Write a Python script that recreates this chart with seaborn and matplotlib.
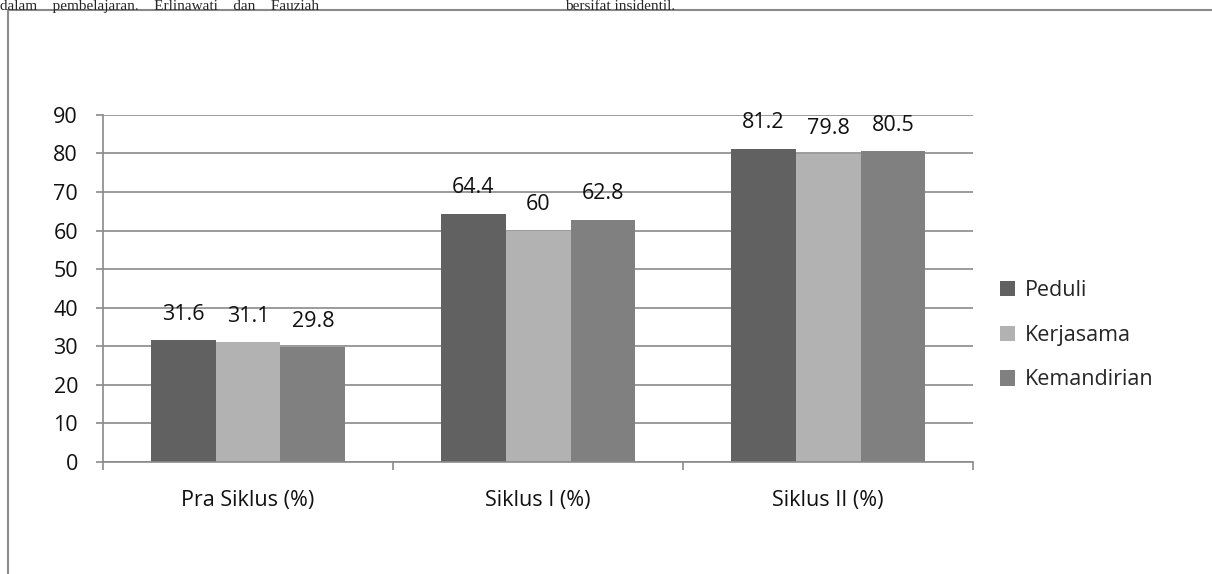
import matplotlib
matplotlib.use("Agg")
import matplotlib.pyplot as plt
from matplotlib.lines import Line2D
import pandas as pd
import seaborn as sns

categories = ["Pra Siklus (%)", "Siklus I (%)", "Siklus II (%)"]
series = ["Peduli", "Kerjasama", "Kemandirian"]
peduli = [31.6, 64.4, 81.2]
kerjasama = [31.1, 60, 79.8]
kemandirian = [29.8, 62.8, 80.5]
colors = ["#616161", "#b2b2b2", "#808080"]

df = pd.DataFrame({
    "siklus": categories * 3,
    "aspek": [s for s in series for _ in categories],
    "nilai": peduli + kerjasama + kemandirian,
})

sns.set_style("white")
plt.rcParams["font.family"] = ["Open Sans", "DejaVu Sans"]
fs = 15.5

fig = plt.figure(figsize=(12.12, 5.74), dpi=100)
ax = fig.add_axes([0.085, 0.195, 0.718, 0.605])

sns.barplot(data=df, x="siklus", y="nilai", hue="aspek", palette=colors,
            width=0.67, saturation=1, ax=ax, errorbar=None, linewidth=0)

for c in ax.containers:
    labels = [f"{v:g}" for v in c.datavalues]
    ax.bar_label(c, labels=labels, padding=11, fontsize=fs, color="#111111")

ax.set_ylim(0, 90)
ax.set_xlim(-0.5, 2.5)
ax.set_yticks(range(0, 91, 10))
ax.yaxis.grid(True, color="#8a8a8a", linewidth=1.2)
ax.set_axisbelow(True)
ax.set_xlabel("")
ax.set_ylabel("")
ax.tick_params(axis="y", labelsize=fs, length=5, width=1.2, color="#8a8a8a",
               left=True, pad=13, labelcolor="#111111")
ax.tick_params(axis="x", which="major", labelsize=fs, length=0, pad=20,
               labelcolor="#111111")
ax.set_xticks([-0.5, 0.5, 1.5, 2.5], minor=True)
ax.tick_params(axis="x", which="minor", length=6, width=1.2, color="#8a8a8a",
               bottom=True)
for side in ["top", "right"]:
    ax.spines[side].set_visible(False)
for side in ["left", "bottom"]:
    ax.spines[side].set_color("#8a8a8a")
    ax.spines[side].set_linewidth(1.2)

leg = ax.legend(loc="center left", bbox_to_anchor=(1.008, 0.365), frameon=False,
                fontsize=fs, handlelength=0.72, handleheight=0.72,
                labelspacing=1.1, handletextpad=0.45)

# border of the chart frame and document text above it
fig.add_artist(Line2D([8 / 1212, 8 / 1212], [0, 1 - 10 / 574],
                      color="#8a8a8a", linewidth=1.5))
fig.add_artist(Line2D([8 / 1212, 1], [1 - 10 / 574, 1 - 10 / 574],
                      color="#8a8a8a", linewidth=1.5))
fig.text(0.0, 1.0, "dalam    pembelajaran.    Erlinawati    dan    Fauziah",
         family=["Liberation Serif"], fontsize=11, va="top", ha="left")
fig.text(0.466, 1.0, "bersifat insidentil.",
         family=["Liberation Serif"], fontsize=11, va="top", ha="left")

fig.savefig("out.png", dpi=100)
